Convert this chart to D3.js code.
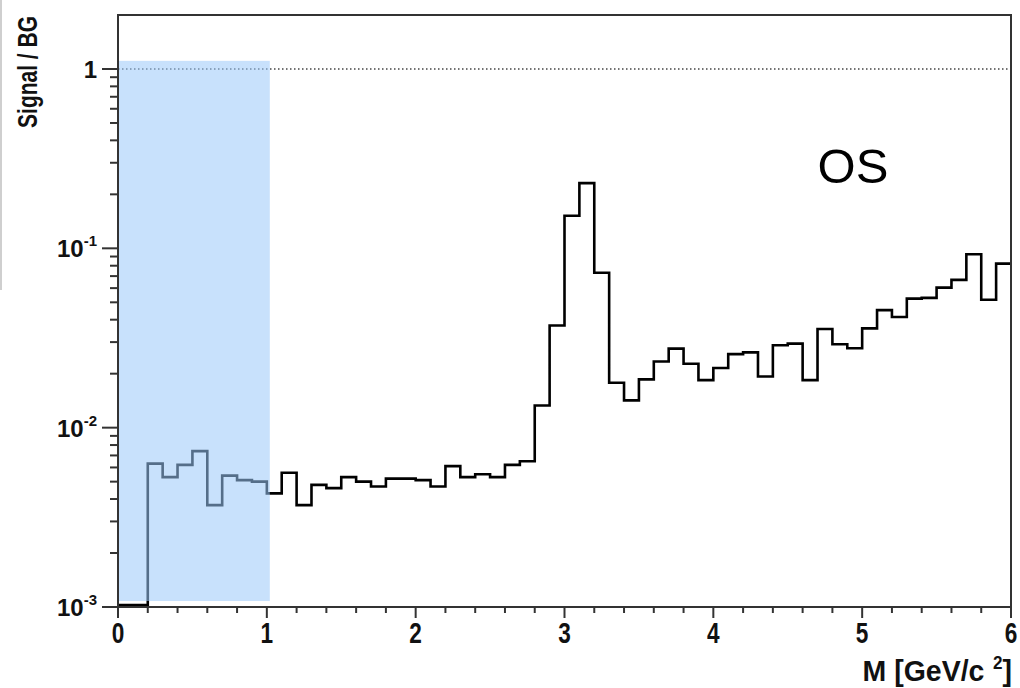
<!DOCTYPE html>
<html>
<head>
<meta charset="utf-8">
<script src="https://cdn.jsdelivr.net/npm/d3@7"></script>
<style>
  body { margin: 0; background: #fff; }
  svg { display: block; font-family: "Liberation Sans", Arial, sans-serif; }
</style>
</head>
<body>
<svg id="chart" width="1020" height="688"></svg>
<script>
// Signal / BG per 0.1 GeV/c^2 mass bin (0 = empty bin)
const binWidth = 0.1;
const ratio = [
  0, 0, 0.0063, 0.0053, 0.0062, 0.0074, 0.0037, 0.0054, 0.0051, 0.0050,
  0.0043, 0.0056, 0.0037, 0.0048, 0.0046, 0.0053, 0.0050, 0.0047, 0.0052, 0.0052,
  0.0051, 0.0047, 0.0061, 0.0053, 0.0055, 0.0053, 0.0062, 0.0065, 0.0133, 0.0371,
  0.152, 0.231, 0.0731, 0.0178, 0.0142, 0.0186, 0.0234, 0.0276, 0.0227, 0.0184,
  0.0215, 0.0257, 0.0263, 0.0193, 0.0288, 0.0294, 0.0184, 0.0355, 0.0292, 0.0277,
  0.0358, 0.0452, 0.0414, 0.0524, 0.0529, 0.0604, 0.0667, 0.0927, 0.0517, 0.0822
];

// axis ticks
const xTicks = [0, 1, 2, 3, 4, 5, 6];
const yExponents = [0, -1, -2, -3];

// shaded low-mass region and reference level
const bandX = [0, 1.02];
const bandY = [1.08e-3, 1.11];
const refLevel = 1;
const label = "OS";

const svg = d3.select("#chart");

const x = d3.scaleLinear().domain([0, 6]).range([118, 1011]);
const y = d3.scaleLog().domain([1e-3, 2]).range([607, 15]);
const yMin = y.domain()[0];

// stray edge of the cropped figure
svg.append("line")
  .attr("x1", 1).attr("x2", 1).attr("y1", 0).attr("y2", 290)
  .attr("stroke", "#cfcfcf").attr("stroke-width", 2);

// dotted line at S/B = 1
svg.append("line")
  .attr("x1", x(0)).attr("x2", x(6))
  .attr("y1", y(refLevel)).attr("y2", y(refLevel))
  .attr("stroke", "#444")
  .attr("stroke-width", 1.5)
  .attr("stroke-dasharray", "1.5,2.5");

// histogram as a step line
const pts = ratio.map((v, i) => ({ m: i * binWidth, v: v }));
pts.push({ m: ratio.length * binWidth, v: ratio[ratio.length - 1] });

svg.append("path")
  .datum(pts)
  .attr("fill", "none")
  .attr("stroke", "#000")
  .attr("stroke-width", 2.6)
  .attr("stroke-linejoin", "miter")
  .attr("d", d3.line()
    .curve(d3.curveStepAfter)
    .x(d => x(d.m))
    .y(d => d.v > 0 ? y(d.v) : y(yMin) - 2)
  );

// translucent band over the low-mass region
svg.append("rect")
  .attr("x", x(bandX[0]))
  .attr("y", y(bandY[1]))
  .attr("width", x(bandX[1]) - x(bandX[0]))
  .attr("height", y(bandY[0]) - y(bandY[1]))
  .attr("fill", "rgb(155,200,250)")
  .attr("fill-opacity", 0.55);

// frame
const axisColor = "#333";
svg.append("rect")
  .attr("x", x(0)).attr("y", y(2))
  .attr("width", x(6) - x(0)).attr("height", y(yMin) - y(2))
  .attr("fill", "none")
  .attr("stroke", axisColor)
  .attr("stroke-width", 2);

// x axis ticks
const xMinor = d3.range(0, 6.0001, 0.2);
svg.append("g").selectAll("line")
  .data(xMinor)
  .join("line")
    .attr("x1", d => x(d)).attr("x2", d => x(d))
    .attr("y1", y(yMin))
    .attr("y2", d => y(yMin) + (Math.abs(d - Math.round(d)) < 1e-6 ? 11 : 6))
    .attr("stroke", axisColor)
    .attr("stroke-width", 2);

// condensed bold digits, as in the original
svg.append("g").selectAll("text")
  .data(xTicks)
  .join("text")
    .attr("transform", d => `translate(${x(d)},643) scale(0.78,1)`)
    .attr("text-anchor", "middle")
    .attr("font-size", 29)
    .attr("font-weight", "bold")
    .attr("fill", "#111")
    .text(d => d);

const xTitle = svg.append("text")
  .attr("transform", "translate(1012,681) scale(0.95,1)")
  .attr("text-anchor", "end")
  .attr("font-size", 30)
  .attr("font-weight", "bold")
  .attr("fill", "#111");
xTitle.append("tspan").text("M [GeV/c");
xTitle.append("tspan").attr("dx", 9).attr("dy", -12).attr("font-size", 18).text("2");
xTitle.append("tspan").attr("dy", 12).text("]");

// y axis ticks (log, minor at 2..9)
const yMinor = [];
yExponents.forEach(e => {
  if (e < 0) d3.range(2, 10).forEach(k => yMinor.push(k * Math.pow(10, e)));
});
svg.append("g").selectAll("line")
  .data(yMinor)
  .join("line")
    .attr("x1", x(0) - 8).attr("x2", x(0))
    .attr("y1", d => y(d)).attr("y2", d => y(d))
    .attr("stroke", axisColor)
    .attr("stroke-width", 2);

svg.append("g").selectAll("line")
  .data(yExponents)
  .join("line")
    .attr("x1", x(0) - 16).attr("x2", x(0))
    .attr("y1", d => y(Math.pow(10, d))).attr("y2", d => y(Math.pow(10, d)))
    .attr("stroke", axisColor)
    .attr("stroke-width", 2);

const yLabels = svg.append("g").selectAll("text")
  .data(yExponents)
  .join("text")
    .attr("x", 97)
    .attr("y", d => y(Math.pow(10, d)) + 9)
    .attr("text-anchor", "end")
    .attr("font-size", 24)
    .attr("font-weight", "bold")
    .attr("fill", "#111");

yLabels.each(function(d) {
  const t = d3.select(this);
  if (d === 0) {
    t.text("1");
  } else {
    t.append("tspan").text("10");
    t.append("tspan").attr("dy", -11).attr("font-size", 15).text(d);
  }
});

svg.append("text")
  .attr("transform", "translate(37,16) rotate(-90) scale(0.75,1)")
  .attr("text-anchor", "end")
  .attr("font-size", 28)
  .attr("font-weight", "bold")
  .attr("fill", "#111")
  .text("Signal / BG");

// panel label
svg.append("text")
  .attr("x", 853)
  .attr("y", 183)
  .attr("text-anchor", "middle")
  .attr("font-size", 49)
  .attr("fill", "#000")
  .text(label);
</script>
</body>
</html>
